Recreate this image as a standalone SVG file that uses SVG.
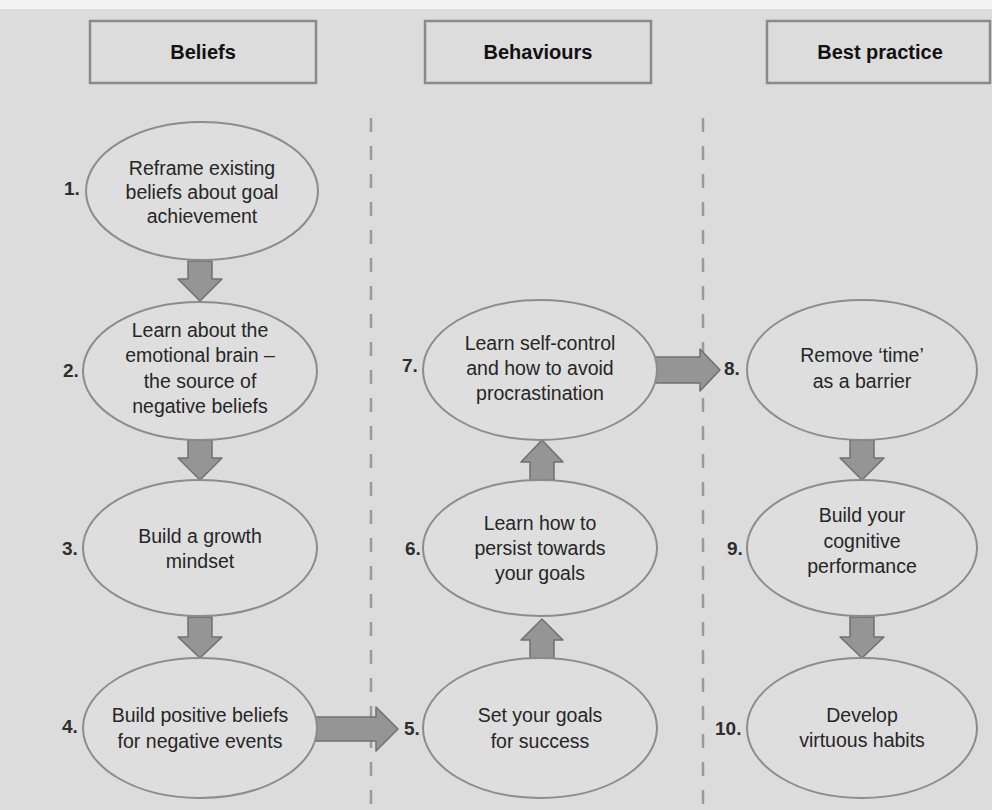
<svg xmlns="http://www.w3.org/2000/svg" width="992" height="810" viewBox="0 0 992 810">
<defs>
<style>
.bg{fill:#dcdcdc}
.hdr{fill:#dcdcdc;stroke:#8a8a8a;stroke-width:2.5}
.hdrt{font-family:"Liberation Sans",Arial,sans-serif;font-size:20px;font-weight:bold;fill:#111;text-anchor:middle}
.node{fill:#dedede;stroke:#8c8c8c;stroke-width:2}
.t{font-family:"Liberation Sans",Arial,sans-serif;font-size:19.5px;fill:#262626;text-anchor:middle}
.num{font-family:"Liberation Sans",Arial,sans-serif;font-size:19px;font-weight:bold;fill:#2e2e2e}
.dash{stroke:#9a9a9a;stroke-width:2.5;stroke-dasharray:14 14;fill:none}
.arr{fill:#959595;stroke:#707070;stroke-width:1.5;stroke-linejoin:round}
</style>
</defs>
<rect class="bg" x="0" y="0" width="992" height="810"/>
<rect x="0" y="0" width="992" height="9" fill="#f4f4f4"/>

<g id="headers">
<g id="hdr-beliefs"><rect class="hdr" x="90" y="21" width="226" height="62"/><text class="hdrt" x="203" y="59">Beliefs</text></g>
<g id="hdr-behaviours"><rect class="hdr" x="425" y="21" width="226" height="62"/><text class="hdrt" x="538" y="59">Behaviours</text></g>
<g id="hdr-best"><rect class="hdr" x="767" y="21" width="223" height="62"/><text class="hdrt" x="880" y="59">Best practice</text></g>
</g>

<g id="dividers">
<line class="dash" x1="371" y1="118" x2="371" y2="806"/>
<line class="dash" x1="703" y1="118" x2="703" y2="806"/>
</g>

<g id="connectors">
<polygon class="arr" points="188,261 212,261 212,279 222,279 200,301 178,279 188,279"/>
<polygon class="arr" points="188,440 212,440 212,458 222,458 200,480 178,458 188,458"/>
<polygon class="arr" points="188,617 212,617 212,637 222,637 200,658 178,637 188,637"/>
<polygon class="arr" points="313,717 376,717 376,707 398,729 376,751 376,741 313,741"/>
<polygon class="arr" points="530,658 554,658 554,640 563,640 542,619 521,640 530,640"/>
<polygon class="arr" points="530,480 554,480 554,462 563,462 542,440 521,462 530,462"/>
<polygon class="arr" points="655,357 700,357 700,349 720,370 700,391 700,383 655,383"/>
<polygon class="arr" points="850,440 874,440 874,458 884,458 862,480 840,458 850,458"/>
<polygon class="arr" points="850,617 874,617 874,637 884,637 862,658 840,637 850,637"/>
</g>

<g id="n1"><ellipse class="node" cx="202" cy="191" rx="116" ry="69"/>
<text class="t" x="202" y="175">Reframe existing</text><text class="t" x="202" y="199">beliefs about goal</text><text class="t" x="202" y="223">achievement</text>
<text class="num" x="64" y="195">1.</text></g>

<g id="n2"><ellipse class="node" cx="200" cy="371" rx="117" ry="69"/>
<text class="t" x="200" y="337">Learn about the</text><text class="t" x="200" y="362">emotional brain –</text><text class="t" x="200" y="388">the source of</text><text class="t" x="200" y="413">negative beliefs</text>
<text class="num" x="63" y="377">2.</text></g>

<g id="n3"><ellipse class="node" cx="200" cy="548" rx="117" ry="68"/>
<text class="t" x="200" y="543">Build a growth</text><text class="t" x="200" y="568">mindset</text>
<text class="num" x="62" y="555">3.</text></g>

<g id="n4"><ellipse class="node" cx="200" cy="728" rx="117" ry="70"/>
<text class="t" x="200" y="722">Build positive beliefs</text><text class="t" x="200" y="748">for negative events</text>
<text class="num" x="62" y="733">4.</text></g>

<g id="n5"><ellipse class="node" cx="540" cy="728" rx="117" ry="70"/>
<text class="t" x="540" y="722">Set your goals</text><text class="t" x="540" y="748">for success</text>
<text class="num" x="404" y="735">5.</text></g>

<g id="n6"><ellipse class="node" cx="540" cy="548" rx="117" ry="68"/>
<text class="t" x="540" y="530">Learn how to</text><text class="t" x="540" y="555">persist towards</text><text class="t" x="540" y="580">your goals</text>
<text class="num" x="405" y="555">6.</text></g>

<g id="n7"><ellipse class="node" cx="540" cy="370" rx="117" ry="70"/>
<text class="t" x="540" y="350">Learn self-control</text><text class="t" x="540" y="375">and how to avoid</text><text class="t" x="540" y="400">procrastination</text>
<text class="num" x="402" y="372">7.</text></g>

<g id="n8"><ellipse class="node" cx="862" cy="370" rx="115" ry="70"/>
<text class="t" x="862" y="362">Remove ‘time’</text><text class="t" x="862" y="388">as a barrier</text>
<text class="num" x="724" y="375">8.</text></g>

<g id="n9"><ellipse class="node" cx="862" cy="548" rx="115" ry="68"/>
<text class="t" x="862" y="522">Build your</text><text class="t" x="862" y="548">cognitive</text><text class="t" x="862" y="573">performance</text>
<text class="num" x="727" y="555">9.</text></g>

<g id="n10"><ellipse class="node" cx="862" cy="728" rx="115" ry="70"/>
<text class="t" x="862" y="722">Develop</text><text class="t" x="862" y="747">virtuous habits</text>
<text class="num" x="715" y="735">10.</text></g>
</svg>
